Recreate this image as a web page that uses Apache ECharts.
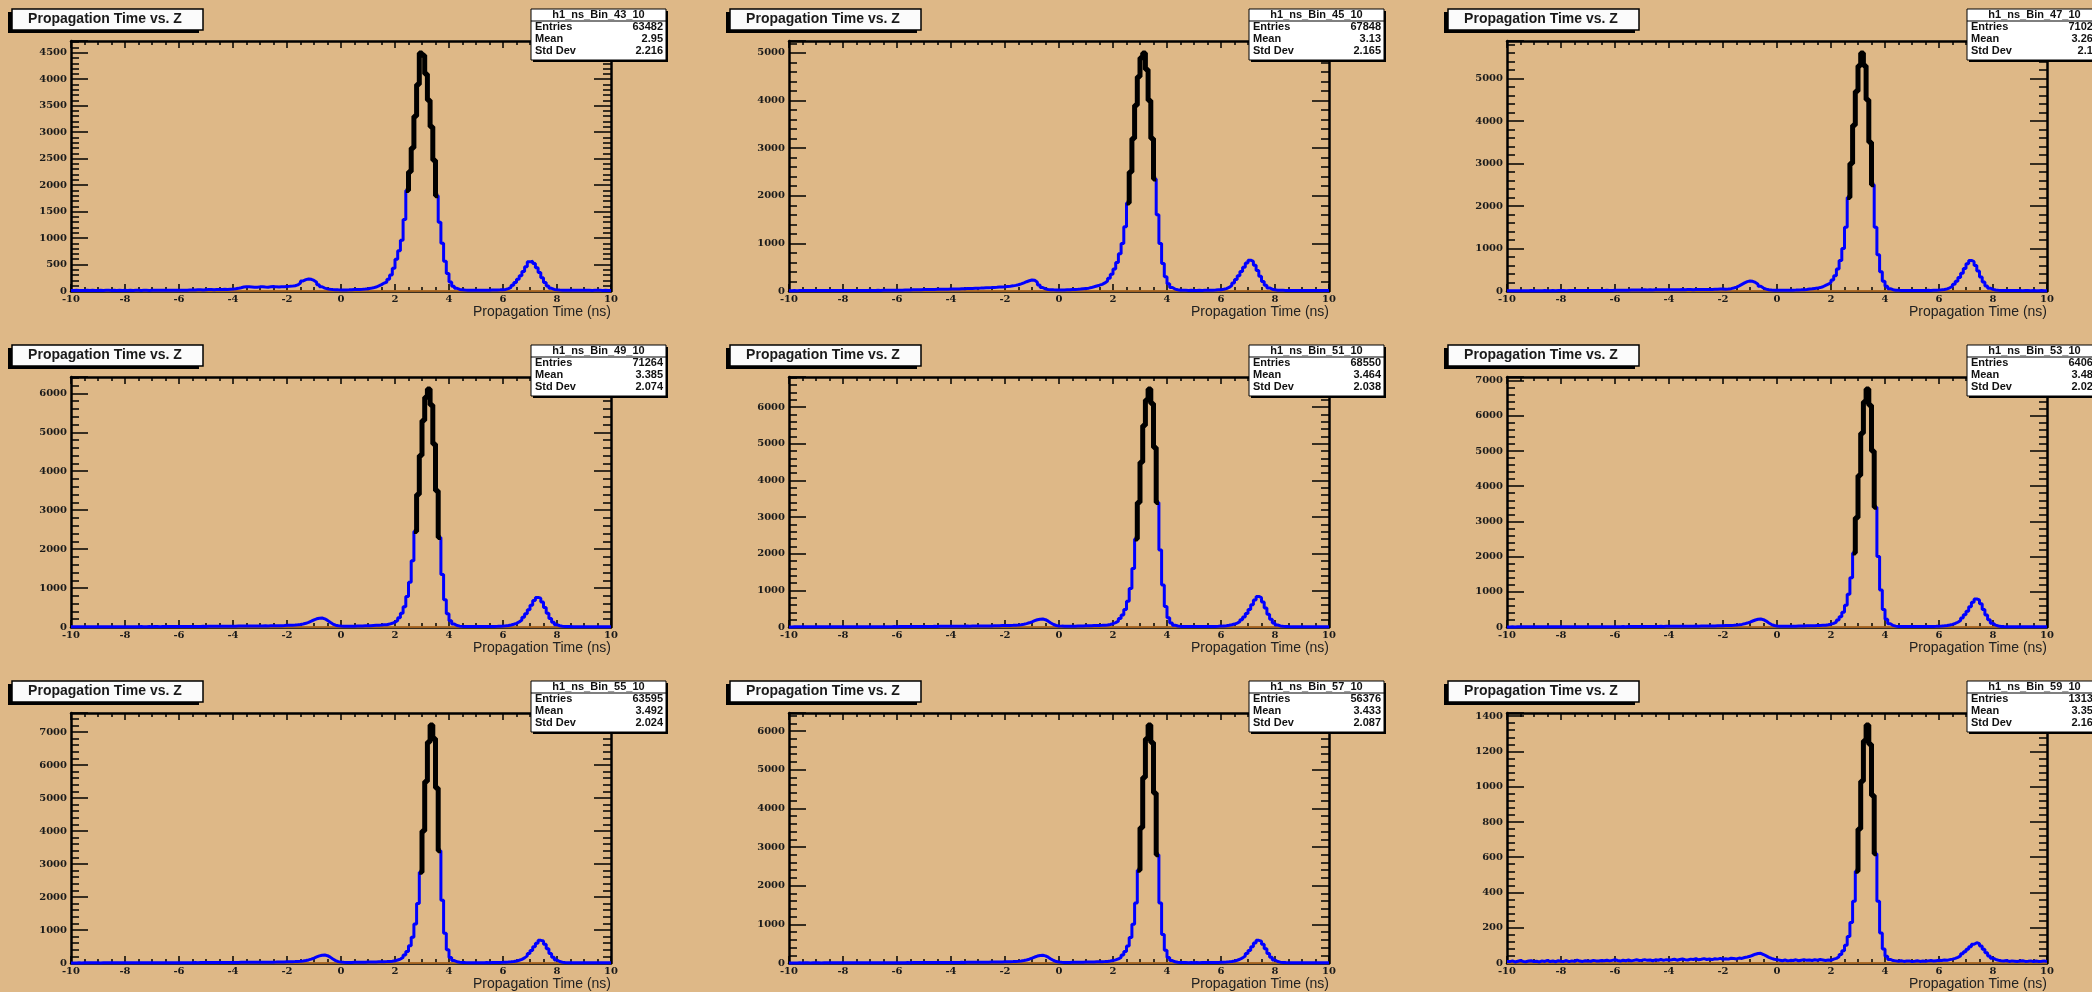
<!DOCTYPE html>
<html>
<head>
<meta charset="utf-8">
<title>Propagation Time vs. Z</title>
<script src="https://cdn.jsdelivr.net/npm/echarts@6/dist/echarts.min.js"></script>
<style>
  html, body { margin: 0; padding: 0; background: #deb887; }
  #c { width: 2092px; height: 992px; }
</style>
</head>
<body>
<div id="c"></div>
<script>
// Histogram binning: 200 bins over [-10, 10] ns
const binLow = -10;
const binHigh = 10;
const nBins = 200;

// Stats box contents, one entry per pad (3 x 3 grid, row by row)
const histNames = ['h1_ns_Bin_43_10', 'h1_ns_Bin_45_10', 'h1_ns_Bin_47_10',
                   'h1_ns_Bin_49_10', 'h1_ns_Bin_51_10', 'h1_ns_Bin_53_10',
                   'h1_ns_Bin_55_10', 'h1_ns_Bin_57_10', 'h1_ns_Bin_59_10'];
const entries = ['63482', '67848', '71028', '71264', '68550', '64063', '63595', '56376', '13130'];
const means   = ['2.95', '3.13', '3.262', '3.385', '3.464', '3.487', '3.492', '3.433', '3.359'];
const stdDevs = ['2.216', '2.165', '2.12', '2.074', '2.038', '2.024', '2.024', '2.087', '2.167'];

// Y axis divisions (major, minor) per pad
const yMajor = [500, 1000, 1000, 1000, 1000, 1000, 1000, 1000, 200];
const yMinor = [100, 200, 200, 200, 200, 200, 200, 200, 40];

// Range (ns) of the highlighted peak region per pad
const peakLo = [2.4, 2.5, 2.6, 2.7, 2.8, 2.8, 2.9, 2.9, 2.9];
const peakHi = [3.6, 3.6, 3.6, 3.7, 3.7, 3.7, 3.7, 3.7, 3.7];

// Flat background level drawn along the axis (start and end of range)
const backgroundLevel = [0, 0];

// Bin contents, 20 bins (2 ns) per line
const counts43 = [
  10, 12, 9, 11, 10, 13, 9, 12, 10, 11, 14, 10, 12, 13, 11, 12, 10, 13, 11, 12,
  11, 13, 10, 12, 14, 11, 13, 12, 10, 14, 12, 13, 15, 12, 14, 13, 12, 15, 13, 14,
  14, 16, 15, 18, 17, 20, 22, 24, 21, 25, 27, 26, 24, 28, 30, 28, 32, 30, 35, 38,
  42, 50, 62, 75, 82, 80, 76, 72, 70, 78, 82, 76, 72, 80, 86, 78, 74, 82, 80, 85,
  88, 92, 100, 115, 150, 190, 215, 228, 220, 200, 165, 120, 80, 55, 40, 32, 28, 25, 22, 21,
  20, 21, 22, 24, 26, 28, 30, 33, 37, 42, 50, 60, 75, 95, 120, 150, 170, 220, 300, 430,
  600, 760, 960, 1350, 1900, 2250, 2700, 3300, 3900, 4496, 4450, 4100, 3600, 3100, 2470, 1800, 1300, 900, 560, 330,
  170, 90, 50, 30, 22, 18, 16, 15, 14, 15, 14, 16, 15, 14, 16, 17, 18, 20, 22, 25,
  30, 45, 70, 110, 160, 220, 290, 370, 460, 550, 560, 520, 440, 350, 250, 160, 95, 50, 30, 22,
  18, 16, 15, 14, 15, 13, 14, 12, 13, 14, 12, 13, 11, 12, 13, 12, 11, 12, 10, 11
];
const counts45 = [
  6, 8, 7, 9, 8, 10, 9, 8, 11, 9, 10, 9, 8, 10, 11, 9, 10, 12, 9, 11,
  10, 9, 12, 11, 10, 12, 13, 11, 12, 14, 13, 12, 14, 13, 15, 14, 16, 15, 17, 16,
  18, 17, 20, 22, 21, 24, 26, 25, 28, 30, 32, 31, 33, 34, 35, 36, 37, 38, 39, 40,
  40, 42, 44, 46, 48, 50, 52, 55, 58, 60, 62, 65, 68, 70, 72, 75, 78, 82, 86, 90,
  95, 100, 108, 118, 132, 150, 172, 195, 215, 230, 225, 185, 125, 72, 45, 33, 27, 24, 22, 22,
  22, 23, 25, 27, 30, 33, 37, 42, 48, 54, 60, 72, 88, 105, 122, 140, 170, 210, 270, 350,
  460, 600, 780, 1000, 1350, 1850, 2500, 3200, 3900, 4500, 4900, 5000, 4650, 4000, 3200, 2350, 1600, 1000, 580, 300,
  150, 75, 40, 25, 18, 15, 14, 13, 14, 13, 12, 14, 13, 15, 14, 16, 18, 20, 24, 28,
  36, 50, 75, 115, 170, 240, 320, 410, 500, 590, 646, 620, 540, 430, 310, 200, 120, 65, 38, 25,
  18, 15, 14, 13, 12, 13, 11, 12, 10, 11, 12, 10, 11, 9, 10, 11, 9, 10, 9, 10
];
const counts47 = [
  5, 7, 6, 8, 7, 6, 8, 7, 9, 8, 7, 8, 6, 9, 8, 7, 9, 8, 10, 9,
  9, 8, 10, 9, 11, 10, 12, 11, 13, 12, 11, 13, 12, 14, 13, 12, 15, 14, 13, 15,
  16, 18, 17, 20, 19, 22, 24, 23, 22, 25, 27, 26, 28, 25, 27, 29, 28, 30, 27, 29,
  30, 28, 32, 30, 34, 31, 33, 35, 32, 36, 34, 33, 37, 35, 38, 36, 40, 42, 45, 48,
  40, 45, 55, 70, 90, 120, 155, 190, 220, 234, 228, 200, 160, 110, 70, 45, 30, 22, 19, 18,
  17, 16, 18, 17, 19, 20, 22, 25, 28, 32, 38, 45, 52, 60, 68, 80, 100, 130, 160, 200,
  260, 360, 520, 720, 1000, 1500, 2200, 3000, 3900, 4700, 5300, 5600, 5300, 4500, 3500, 2500, 1500, 850, 450, 230,
  110, 55, 30, 20, 16, 14, 13, 12, 13, 12, 14, 13, 12, 14, 13, 15, 14, 16, 18, 22,
  28, 36, 50, 75, 110, 160, 230, 320, 420, 530, 640, 719, 690, 600, 470, 330, 210, 120, 65, 38,
  24, 18, 14, 12, 11, 10, 11, 9, 10, 9, 8, 10, 9, 8, 9, 8, 7, 9, 8, 8
];
const counts49 = [
  4, 5, 6, 5, 7, 6, 5, 7, 6, 8, 6, 7, 5, 6, 8, 7, 6, 7, 8, 6,
  7, 8, 7, 9, 8, 10, 9, 8, 10, 9, 11, 10, 9, 11, 10, 12, 11, 10, 12, 11,
  12, 13, 12, 14, 15, 14, 16, 15, 17, 16, 18, 17, 19, 18, 20, 19, 21, 20, 22, 21,
  22, 24, 23, 25, 24, 26, 25, 27, 26, 28, 27, 29, 28, 30, 29, 31, 33, 35, 38, 42,
  45, 48, 52, 58, 66, 78, 95, 120, 150, 185, 210, 226, 230, 210, 170, 120, 75, 45, 30, 24,
  21, 20, 19, 21, 22, 24, 25, 27, 29, 31, 34, 38, 42, 46, 50, 55, 60, 75, 95, 125,
  170, 240, 350, 520, 780, 1150, 1700, 2450, 3400, 4400, 5300, 5900, 6113, 5700, 4700, 3500, 2300, 1350, 700, 340,
  160, 75, 38, 22, 16, 13, 12, 11, 12, 11, 12, 13, 12, 14, 13, 15, 16, 18, 21, 26,
  32, 40, 52, 70, 95, 130, 180, 250, 340, 440, 560, 680, 760, 740, 640, 500, 350, 220, 120, 60,
  32, 20, 14, 11, 10, 9, 9, 8, 9, 8, 8, 9, 7, 8, 8, 7, 8, 7, 7, 8
];
const counts51 = [
  3, 4, 5, 4, 5, 6, 5, 6, 4, 5, 6, 5, 4, 6, 5, 7, 6, 5, 6, 7,
  6, 7, 6, 8, 7, 6, 8, 7, 9, 8, 7, 9, 8, 10, 9, 8, 10, 9, 11, 10,
  11, 12, 11, 13, 12, 14, 13, 15, 14, 16, 15, 17, 16, 18, 17, 19, 18, 20, 19, 21,
  20, 22, 21, 23, 22, 24, 23, 25, 24, 26, 25, 27, 26, 28, 29, 31, 33, 35, 38, 41,
  42, 44, 46, 50, 56, 64, 76, 92, 115, 142, 172, 198, 214, 218, 200, 160, 110, 68, 42, 30,
  24, 21, 20, 21, 22, 23, 25, 27, 29, 31, 33, 35, 38, 41, 44, 47, 51, 55, 70, 90,
  120, 160, 230, 330, 480, 700, 1050, 1600, 2400, 3400, 4500, 5500, 6200, 6500, 6100, 4900, 3400, 2100, 1150, 560,
  250, 110, 50, 26, 17, 13, 12, 11, 12, 11, 12, 11, 13, 12, 14, 13, 15, 17, 20, 24,
  30, 36, 46, 60, 80, 108, 145, 200, 275, 370, 480, 610, 740, 835, 800, 680, 520, 350, 210, 110,
  55, 30, 18, 13, 11, 10, 9, 9, 8, 9, 8, 8, 9, 7, 8, 7, 8, 7, 7, 7
];
const counts53 = [
  3, 4, 3, 5, 4, 5, 4, 6, 5, 4, 5, 6, 4, 5, 6, 5, 4, 6, 5, 6,
  6, 5, 7, 6, 7, 8, 7, 6, 8, 7, 8, 9, 8, 7, 9, 8, 9, 10, 9, 10,
  9, 10, 11, 10, 12, 11, 13, 12, 14, 13, 15, 14, 16, 15, 17, 16, 18, 17, 19, 18,
  20, 19, 21, 22, 21, 23, 22, 24, 23, 25, 24, 26, 27, 26, 28, 29, 31, 33, 35, 38,
  40, 42, 45, 48, 54, 62, 74, 90, 112, 140, 170, 198, 218, 225, 208, 168, 115, 70, 42, 28,
  22, 19, 18, 19, 20, 22, 24, 26, 28, 30, 32, 34, 36, 38, 41, 44, 47, 50, 62, 80,
  105, 140, 200, 290, 420, 620, 930, 1400, 2100, 3100, 4300, 5500, 6400, 6763, 6300, 5000, 3400, 2000, 1050, 500,
  220, 95, 45, 25, 16, 13, 12, 11, 12, 11, 12, 11, 12, 13, 12, 14, 15, 17, 19, 23,
  28, 34, 43, 56, 75, 100, 135, 185, 255, 345, 450, 575, 700, 795, 770, 660, 500, 340, 205, 105,
  52, 28, 17, 12, 10, 9, 9, 8, 8, 8, 7, 8, 7, 7, 8, 7, 7, 6, 7, 6
];
const counts55 = [
  3, 3, 4, 3, 4, 5, 4, 5, 4, 5, 3, 4, 5, 4, 5, 4, 6, 5, 4, 5,
  5, 6, 5, 6, 7, 6, 7, 6, 8, 7, 6, 8, 7, 8, 7, 9, 8, 9, 8, 9,
  9, 8, 10, 11, 10, 12, 11, 13, 12, 13, 14, 13, 15, 14, 16, 15, 17, 16, 18, 17,
  18, 17, 19, 20, 19, 21, 20, 22, 21, 23, 22, 24, 25, 24, 26, 27, 29, 31, 33, 36,
  38, 40, 43, 47, 53, 62, 75, 93, 118, 150, 185, 215, 236, 242, 222, 178, 120, 72, 42, 28,
  22, 18, 17, 18, 19, 20, 22, 24, 26, 28, 30, 32, 34, 36, 38, 40, 42, 45, 55, 70,
  90, 120, 170, 240, 350, 520, 780, 1180, 1800, 2750, 4000, 5500, 6700, 7215, 6800, 5300, 3400, 1900, 900, 400,
  170, 75, 38, 22, 15, 12, 11, 10, 11, 10, 11, 10, 11, 12, 11, 13, 14, 15, 17, 20,
  24, 29, 36, 46, 62, 84, 112, 155, 215, 290, 380, 490, 600, 687, 665, 570, 430, 290, 175, 90,
  45, 24, 15, 11, 9, 8, 8, 7, 8, 7, 7, 7, 6, 7, 7, 6, 7, 6, 6, 6
];
const counts57 = [
  3, 3, 3, 4, 3, 4, 4, 3, 4, 5, 4, 3, 4, 5, 4, 4, 5, 4, 5, 5,
  5, 5, 6, 5, 6, 5, 6, 7, 6, 7, 6, 7, 7, 8, 7, 8, 7, 8, 8, 9,
  8, 9, 9, 10, 9, 10, 11, 10, 11, 12, 11, 12, 13, 12, 13, 14, 13, 14, 15, 14,
  15, 16, 15, 17, 16, 18, 17, 19, 18, 20, 19, 21, 22, 21, 23, 24, 25, 27, 29, 31,
  33, 35, 37, 40, 45, 52, 63, 78, 98, 125, 155, 180, 196, 200, 185, 150, 105, 64, 38, 26,
  20, 16, 15, 16, 17, 18, 19, 21, 22, 24, 26, 28, 29, 31, 33, 35, 37, 40, 50, 62,
  80, 105, 145, 205, 300, 440, 660, 1000, 1550, 2400, 3500, 4800, 5800, 6158, 5700, 4400, 2800, 1550, 740, 330,
  140, 62, 32, 18, 13, 11, 10, 9, 10, 9, 10, 9, 10, 11, 10, 11, 12, 13, 15, 18,
  21, 25, 31, 40, 53, 72, 96, 132, 183, 248, 325, 418, 515, 586, 566, 485, 366, 247, 150, 78,
  40, 22, 13, 10, 8, 7, 7, 6, 7, 6, 6, 6, 5, 6, 6, 5, 6, 5, 5, 5
];
const counts59 = [
  8, 12, 6, 10, 14, 9, 7, 11, 13, 8, 10, 6, 12, 9, 15, 8, 11, 7, 13, 10,
  9, 14, 8, 12, 10, 16, 11, 9, 13, 12, 10, 15, 12, 11, 14, 13, 16, 12, 15, 18,
  14, 11, 16, 13, 17, 12, 15, 18, 14, 16, 19, 15, 17, 13, 18, 16, 20, 15, 19, 17,
  18, 21, 16, 20, 23, 19, 17, 22, 20, 24, 18, 21, 25, 20, 23, 19, 24, 22, 26, 21,
  24, 22, 27, 25, 23, 28, 26, 31, 34, 38, 44, 50, 54, 55, 48, 40, 32, 26, 21, 19,
  16, 13, 17, 12, 15, 14, 18, 13, 16, 19, 15, 17, 14, 18, 16, 20, 17, 14, 17, 15,
  22, 26, 35, 48, 70, 100, 150, 230, 350, 520, 760, 1030, 1260, 1350, 1240, 950, 620, 350, 170, 80,
  38, 20, 14, 12, 10, 13, 9, 11, 12, 8, 10, 13, 9, 11, 10, 12, 14, 11, 13, 15,
  14, 17, 15, 19, 22, 26, 32, 40, 52, 64, 78, 92, 106, 115, 110, 96, 78, 58, 40, 27,
  20, 16, 13, 11, 14, 9, 12, 10, 8, 11, 13, 9, 10, 12, 8, 11, 9, 10, 12, 9
];
const allCounts = [counts43, counts45, counts47, counts49, counts51, counts53, counts55, counts57, counts59];

// Pad geometry (pixels)
const PAD_W = 718, PAD_H = 336;
const FRAME_L = 71, FRAME_T = 41, FRAME_W = 540, FRAME_H = 250;

const chart = echarts.init(document.getElementById('c'), null, { renderer: 'canvas', width: 2092, height: 992 });

const binWidth = (binHigh - binLow) / nBins;
function stepPoints(counts, from, to) {
  const pts = [];
  for (let i = from; i <= to; i++) pts.push([binLow + i * binWidth, counts[i]]);
  pts.push([binLow + (to + 1) * binWidth, counts[to]]);
  return pts;
}

const labelFont = {
  fontFamily: '"DejaVu Serif", "Liberation Serif", serif',
  fontWeight: 'bold',
  fontSize: 10,
  color: '#1a1a1a'
};
const black = '#000';

const grid = [], xAxis = [], yAxis = [], series = [], elements = [];

allCounts.forEach((counts, k) => {
  const col = k % 3, row = Math.floor(k / 3);
  const ox = col * PAD_W, oy = row * PAD_H;
  const yMax = Math.max(...counts) * 1.05;

  grid.push({ left: ox + FRAME_L, top: oy + FRAME_T, width: FRAME_W, height: FRAME_H, show: false });

  const xBase = {
    type: 'value', gridIndex: k, min: binLow, max: binHigh, interval: 2,
    splitLine: { show: false },
    axisLine: { show: true, onZero: false, lineStyle: { color: black, width: 2.5 } },
    axisTick: { show: true, inside: true, length: 7, lineStyle: { color: black, width: 1.5 } },
    minorTick: { show: true, splitNumber: 4, length: 4, lineStyle: { color: black, width: 1.5 } }
  };
  xAxis.push(Object.assign({}, xBase, { position: 'bottom', axisLabel: Object.assign({ margin: 3 }, labelFont) }));
  xAxis.push(Object.assign({}, xBase, { position: 'top', axisLabel: { show: false } }));

  ['left', 'right'].forEach(pos => {
    yAxis.push({
      type: 'value', gridIndex: k, position: pos, min: 0, max: yMax, interval: yMajor[k],
      splitLine: { show: false },
      axisLine: { show: true, onZero: false, lineStyle: { color: black, width: 2.5 } },
      axisTick: { show: true, inside: true, length: 17, lineStyle: { color: black, width: 1.5 } },
      axisLabel: pos === 'left'
        ? Object.assign({ margin: 4, formatter: v => (v % yMajor[k] === 0 ? String(v) : '') }, labelFont)
        : { show: false }
    });
    yAxis.push({
      type: 'value', gridIndex: k, position: pos, min: 0, max: yMax, interval: yMinor[k],
      splitLine: { show: false },
      axisLine: { show: false, onZero: false },
      axisTick: { show: true, inside: true, length: 8, lineStyle: { color: black, width: 1.5 } },
      axisLabel: { show: false }
    });
  });

  // flat background level along the axis
  series.push({
    type: 'line', xAxisIndex: 2 * k, yAxisIndex: 4 * k, symbol: 'none', clip: false,
    data: [[binLow, backgroundLevel[0]], [binHigh, backgroundLevel[1]]],
    lineStyle: { color: '#d4822c', width: 1.5 }, z: 1
  });
  // full histogram
  series.push({
    type: 'line', xAxisIndex: 2 * k, yAxisIndex: 4 * k, step: 'end', symbol: 'none', clip: false,
    data: stepPoints(counts, 0, nBins - 1),
    lineStyle: { color: '#0000ff', width: 3 }, z: 2
  });
  // highlighted peak region
  let a = nBins, b = -1;
  for (let i = 0; i < nBins; i++) {
    const c = binLow + (i + 0.5) * binWidth;
    if (c >= peakLo[k] && c <= peakHi[k]) { a = Math.min(a, i); b = Math.max(b, i); }
  }
  series.push({
    type: 'line', xAxisIndex: 2 * k, yAxisIndex: 4 * k, step: 'end', symbol: 'none', clip: false,
    data: stepPoints(counts, a, b),
    lineStyle: { color: '#000', width: 5 }, z: 3
  });

  // title pave with shadow
  elements.push({ type: 'rect', shape: { x: ox + 8, y: oy + 12, width: 191, height: 21 }, style: { fill: '#000' }, z: 10 });
  elements.push({ type: 'rect', shape: { x: ox + 12, y: oy + 9, width: 191, height: 21 },
    style: { fill: '#fbfbfb', stroke: '#000', lineWidth: 1.5 }, z: 11 });
  elements.push({ type: 'text', x: ox + 105, y: oy + 19.5, z: 12,
    style: { text: 'Propagation Time vs. Z', fontFamily: '"Liberation Sans", Arial, sans-serif', fontSize: 14,
      fontWeight: 'bold', fill: '#1a1a1a', align: 'center', verticalAlign: 'middle' } });

  // stats box
  const sx = ox + 531, sy = oy + 9, sw = 135, sh = 51;
  elements.push({ type: 'rect', shape: { x: sx + 2, y: sy + 2, width: sw, height: sh }, style: { fill: '#000' }, z: 10 });
  elements.push({ type: 'rect', shape: { x: sx, y: sy, width: sw, height: sh },
    style: { fill: '#fff', stroke: '#000', lineWidth: 1 }, z: 11 });
  elements.push({ type: 'line', shape: { x1: sx, y1: sy + 12, x2: sx + sw, y2: sy + 12 },
    style: { stroke: '#000', lineWidth: 1 }, z: 12 });
  const statFont = { fontFamily: '"Liberation Sans", Arial, sans-serif', fontSize: 11, fontWeight: 'bold', fill: '#111' };
  elements.push({ type: 'text', x: sx + sw / 2, y: sy + 6, z: 12,
    style: Object.assign({ text: histNames[k], align: 'center', verticalAlign: 'middle' }, statFont) });
  [['Entries', entries[k]], ['Mean', means[k]], ['Std Dev', stdDevs[k]]].forEach((row, j) => {
    const ty = sy + 18 + j * 12;
    elements.push({ type: 'text', x: sx + 4, y: ty, z: 12,
      style: Object.assign({ text: row[0], align: 'left', verticalAlign: 'middle' }, statFont) });
    elements.push({ type: 'text', x: sx + sw - 3, y: ty, z: 12,
      style: Object.assign({ text: row[1], align: 'right', verticalAlign: 'middle' }, statFont) });
  });

  // x axis title
  elements.push({ type: 'text', x: ox + FRAME_L + FRAME_W, y: oy + 312, z: 12,
    style: { text: 'Propagation Time (ns)', fontFamily: '"Liberation Sans", Arial, sans-serif', fontSize: 14,
      fill: '#222', align: 'right', verticalAlign: 'middle' } });
});

chart.setOption({
  backgroundColor: '#deb887',
  animation: false,
  grid, xAxis, yAxis, series,
  graphic: { elements }
});
</script>
</body>
</html>
